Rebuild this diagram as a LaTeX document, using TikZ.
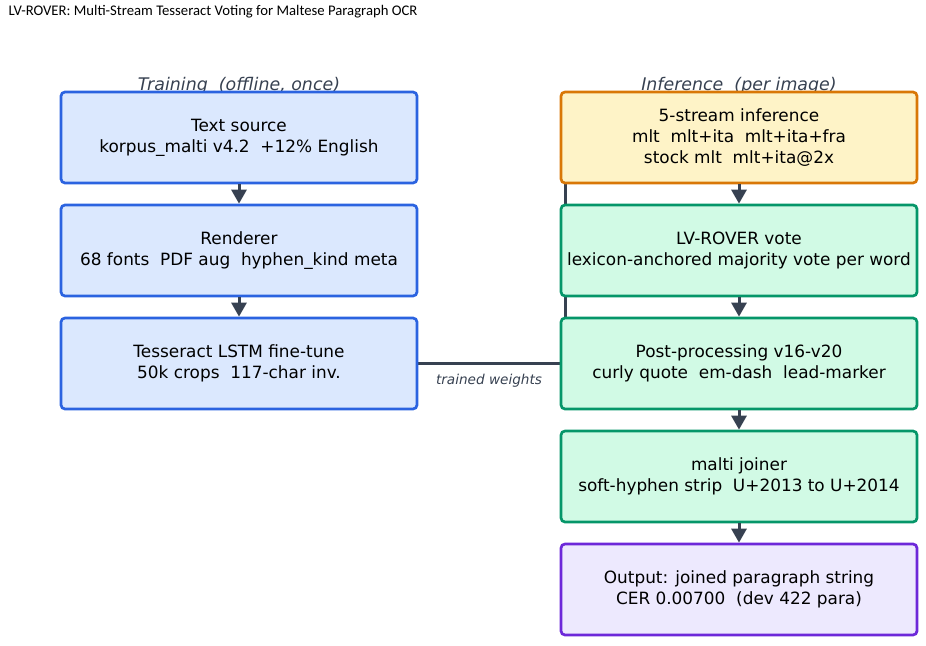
\documentclass[tikz,border=0pt]{standalone}
\usepackage{fontspec}
\setmainfont{DejaVu Sans}
\newfontfamily\titlefont{Carlito}
\usetikzlibrary{arrows.meta,backgrounds}
\definecolor{ink}{HTML}{374151}
\definecolor{bluefill}{HTML}{DBE8FE}
\definecolor{bluedraw}{HTML}{2B63E0}
\definecolor{orangefill}{HTML}{FEF3C7}
\definecolor{orangedraw}{HTML}{D97706}
\definecolor{greenfill}{HTML}{D1FAE5}
\definecolor{greendraw}{HTML}{059669}
\definecolor{purplefill}{HTML}{EDE9FE}
\definecolor{purpledraw}{HTML}{6D28D9}
\tikzset{
  x=1pt,y=-1pt,
  box/.style={rounded corners=4pt,line width=2.7pt,minimum width=356pt,minimum height=91pt,
    align=center,inner sep=0pt,font=\fontsize{16.9}{21}\selectfont,text=black},
  bluebox/.style={box,draw=bluedraw,fill=bluefill},
  orangebox/.style={box,draw=orangedraw,fill=orangefill},
  greenbox/.style={box,draw=greendraw,fill=greenfill},
  purplebox/.style={box,draw=purpledraw,fill=purplefill},
  flow/.style={draw=ink,line width=3pt,-{Triangle[width=15pt,length=14pt]}},
  section/.style={font=\itshape\fontsize{17.4}{20}\selectfont,text=ink},
}
\begin{document}
\begin{tikzpicture}
\useasboundingbox (0,0) rectangle (926,645);
\node[anchor=west,font=\titlefont\fontsize{14.7}{17}\selectfont] (title) at (5,12) {LV-ROVER: Multi-Stream Tesseract Voting for Maltese Paragraph OCR};
\node[section] (trainlbl) at (239,85.5) {Training\ \ (offline, once)};
\node[section] (inflbl) at (739,85.5) {Inference\ \ (per image)};

\node[bluebox] (src) at (239,137.5) {Text source\\korpus\_malti v4.2\ \ +12\% English};
\node[bluebox] (rend) at (239,250.5) {Renderer\\68 fonts\ \ PDF aug\ \ hyphen\_kind meta};
\node[bluebox] (tess) at (239,363.5) {Tesseract LSTM fine-tune\\50k crops\ \ 117-char inv.};

\node[orangebox] (inf) at (739,137.5) {5-stream inference\\mlt\ \ mlt+ita\ \ mlt+ita+fra\\stock mlt\ \ mlt+ita@2x};
\node[greenbox] (vote) at (739,250.5) {LV-ROVER vote\\lexicon-anchored majority vote per word};
\node[greenbox] (post) at (739,363.5) {Post-processing v16-v20\\curly quote\ \ em-dash\ \ lead-marker};
\node[greenbox] (join) at (739,476.5) {malti joiner\\soft-hyphen strip\ \ U+2013 to U+2014};
\node[purplebox] (out) at (739,589.5) {Output: joined paragraph string\\CER 0.00700\ \ (dev 422 para)};

\coordinate (c1) at (565,363.5);
\coordinate (c2) at (565,157);
\begin{scope}[on background layer]
\draw[flow,rounded corners=0pt] (tess.east) -- (c1) -- (c2) -- (inf.west |- c2);
\end{scope}
\node[font=\itshape\fontsize{13.6}{16}\selectfont,text=ink] (tw) at (489,381) {trained weights};

\draw[flow] (src) -- (rend);
\draw[flow] (rend) -- (tess);
\draw[flow] (inf) -- (vote);
\draw[flow] (vote) -- (post);
\draw[flow] (post) -- (join);
\draw[flow] (join) -- (out);
\end{tikzpicture}
\end{document}
